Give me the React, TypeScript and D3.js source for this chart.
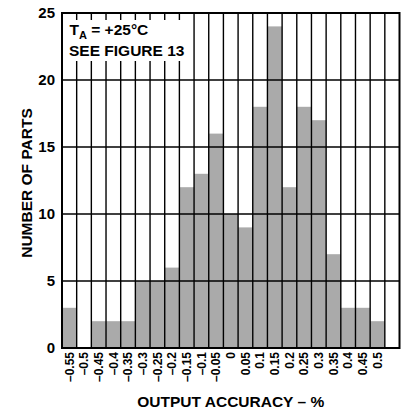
import * as d3 from 'd3'

// histogram bins (output accuracy, %) and part counts
const categories = [
  '–0.55', '–0.5', '–0.45', '–0.4', '–0.35', '–0.3', '–0.25', '–0.2', '–0.15', '–0.1', '–0.05',
  '0', '0.05', '0.1', '0.15', '0.2', '0.25', '0.3', '0.35', '0.4', '0.45', '0.5',
]
const counts = [3, 0, 2, 2, 2, 5, 5, 6, 12, 13, 16, 10, 9, 18, 24, 12, 18, 17, 7, 3, 3, 2]
const yTicks = [0, 5, 10, 15, 20, 25]

const width = 402
const height = 412
const plot = { left: 62, right: 399.5, top: 13, bottom: 348 }
const font = '"Liberation Sans", Arial, Helvetica, sans-serif'

const App = () => {
  // one spare empty column on the right, as in the original figure
  const x = d3
    .scaleBand<string>()
    .domain([...categories, ''])
    .range([plot.left, plot.right])
    .padding(0)

  const y = d3.scaleLinear().domain([0, 25]).range([plot.bottom, plot.top])

  const bw = x.bandwidth()
  const columnEdges = d3.range(1, categories.length + 1).map((i) => plot.left + i * bw)

  return (
    <svg
      width={width}
      height={height}
      style={{ position: 'absolute', left: 0, top: 0, background: '#fff' }}
      fontFamily={font}
      fontWeight="bold"
    >
      {/* bars */}
      {counts.map((c, i) => (
        <rect
          key={categories[i]}
          x={x(categories[i])!}
          y={y(c)}
          width={bw}
          height={y(0) - y(c)}
          fill="#aaaaaa"
        />
      ))}

      {/* grid */}
      {yTicks.slice(1, -1).map((t) => (
        <line key={'h' + t} x1={plot.left} x2={plot.right} y1={y(t)} y2={y(t)} stroke="#000" strokeWidth={1.4} />
      ))}
      {columnEdges.map((ex, i) => (
        <line key={'v' + i} x1={ex} x2={ex} y1={plot.top} y2={plot.bottom} stroke="#000" strokeWidth={1.4} />
      ))}

      {/* annotation box */}
      <rect x={plot.left + 1} y={20} width={127} height={41} fill="#fff" />
      <text x={69.5} y={35} fontSize={15.5}>
        T<tspan fontSize={11} dy={3.5}>A</tspan>
        <tspan dy={-3.5}> = +25°C</tspan>
      </text>
      <text x={69} y={55.5} fontSize={15.5}>SEE FIGURE 13</text>

      {/* frame */}
      <rect
        x={plot.left}
        y={plot.top}
        width={plot.right - plot.left}
        height={plot.bottom - plot.top}
        fill="none"
        stroke="#000"
        strokeWidth={2}
      />

      {/* y tick labels */}
      {yTicks.map((t) => (
        <text key={'yl' + t} x={55} y={y(t)} dy="0.36em" textAnchor="end" fontSize={15}>
          {t}
        </text>
      ))}

      {/* x tick labels */}
      {categories.map((c) => {
        const cx = x(c)! + bw / 2
        return (
          <text
            key={'xl' + c}
            transform={`translate(${cx},352) rotate(-90)`}
            dy="0.36em"
            textAnchor="end"
            fontSize={12}
          >
            {c}
          </text>
        )
      })}

      {/* axis titles */}
      <text x={(plot.left + plot.right) / 2} y={406.5} textAnchor="middle" fontSize={15.5}>
        OUTPUT ACCURACY – %
      </text>
      <text transform="translate(31.5,183) rotate(-90)" textAnchor="middle" fontSize={15.5}>
        NUMBER OF PARTS
      </text>
    </svg>
  )
}

export default App
